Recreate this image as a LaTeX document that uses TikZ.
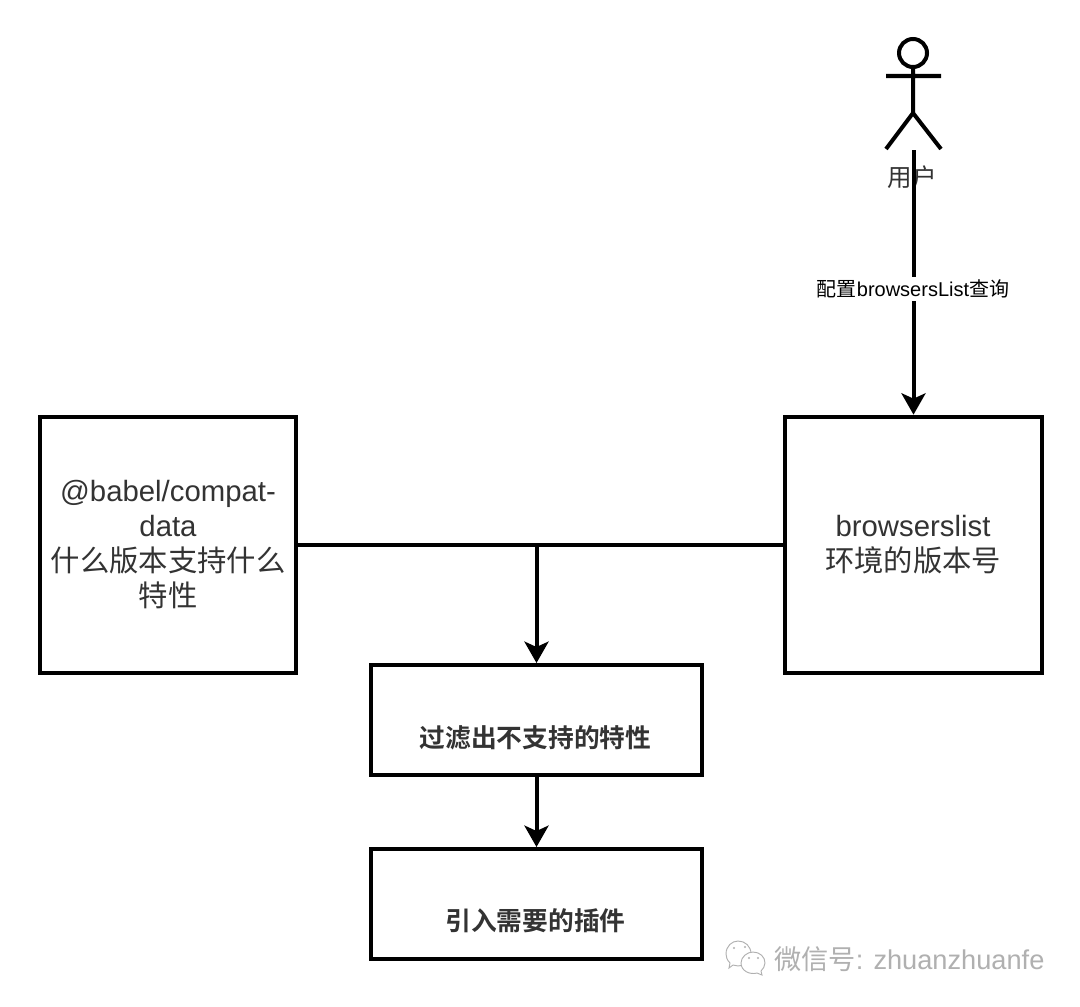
\documentclass[tikz,border=0pt]{standalone}
\usepackage{fontspec}
\setmainfont{Liberation Sans}
\newfontfamily\cjk{Noto Sans CJK SC}
\newfontfamily\cjkb{Noto Sans CJK SC}[BoldFont={Noto Sans CJK SC Bold}]
\usetikzlibrary{arrows.meta}
\definecolor{ink}{HTML}{000000}
\definecolor{txt}{HTML}{333333}
\definecolor{wm}{HTML}{B0B0B0}
\tikzset{
  x=0.75pt,y=-0.75pt,
  boxa/.style={draw=ink,line width=3pt,fill=white,inner sep=0pt},
  boxb/.style={draw=ink,line width=3pt,fill=white,inner sep=0pt},
  conn/.style={draw=ink,line width=3pt},
  arr/.style={conn,-{Stealth[length=16pt,width=18pt,inset=4pt]}},
  fig/.style={draw=ink,line width=3pt},
  wmline/.style={draw=wm,line width=0.7pt,fill=white}
}
\begin{document}
\begin{tikzpicture}
\useasboundingbox (0,0) rectangle (1080,1006);
\fill[white] (0,0) rectangle (1080,1006);
% boxes
\node[boxa,minimum width=192.5pt,minimum height=192.5pt] (compat) at (168,545) {};
\node[boxa,minimum width=192.5pt,minimum height=192.5pt] (blist) at (913.5,545) {};
\node[boxb,minimum width=248pt,minimum height=82.5pt] (filter) at (536.5,720) {};
\node[boxb,minimum width=248pt,minimum height=82.5pt] (plugin) at (536.5,904) {};
% box text
\node[text=txt,align=center,inner sep=0pt,font=\fontsize{22}{26.25}\selectfont] (compatT) at (168,545) {@babel/compat-\\data\\{\cjk 什么版本支持什么}\\{\cjk 特性}};
\node[text=txt,align=center,inner sep=0pt,font=\fontsize{22}{26.25}\selectfont] (blistT) at (913,545) {browserslist\\{\cjk 环境的版本号}};
\node[text=txt,inner sep=0pt,font=\fontsize{19.3}{23}\selectfont\cjkb\bfseries] (filterT) at (535.5,738) {过滤出不支持的特性};
\node[text=txt,inner sep=0pt,font=\fontsize{19.3}{23}\selectfont\cjkb\bfseries] (pluginT) at (535.5,921) {引入需要的插件};
% actor
\node[draw=ink,line width=3pt,circle,minimum size=21pt,inner sep=0pt] (head) at (913,53) {};
\coordinate (hip) at (913,113);
\coordinate (armL) at (886,76);
\coordinate (armR) at (941,76);
\coordinate (legL) at (886,149);
\coordinate (legR) at (941,149);
\draw[fig] (head.south) -- (hip) (armL) -- (armR) (legL) -- (hip) -- (legR);
\node[text=txt,inner sep=0pt,font=\fontsize{18.4}{20}\selectfont\cjk] (user) at (912,177) {用户};
% connectors
\coordinate (start) at (913.5,150);
\draw[arr] (start) -- (blist.north);
\node[fill=white,inner sep=2pt,text=ink,font=\fontsize{15}{17}\selectfont] (cfg) at (913,289) {{\cjk 配置}browsersList{\cjk 查询}};
\coordinate (junction) at (536.5,545);
\draw[conn] (compat.east) -- (blist.west);
\draw[arr] (junction) -- (filter.north);
\draw[arr] (filter.south) -- (plugin.north);
% watermark
\path[wmline] (726,954) .. controls (726,946) and (732,941) .. (738,941) .. controls (745,941) and (751,946) .. (751,954) .. controls (751,961) and (745,966) .. (738,966) .. controls (736,966) and (735,966) .. (733,965) -- (729,968) -- (730,963) .. controls (727,960) and (726,957) .. (726,954) -- cycle;
\path[wmline] (741,963) .. controls (741,957) and (747,952) .. (753,952) .. controls (760,952) and (765,957) .. (765,963) .. controls (765,966) and (763,969) .. (761,971) -- (762,975) -- (757,973) .. controls (750,975) and (741,971) .. (741,963) -- cycle;
\fill[wm] (734,948) circle (1.2) (745,947) circle (1.2) (749,958) circle (1.1) (758,958) circle (1.1);
\node[text=wm,inner sep=0pt,anchor=west,font=\fontsize{20.4}{24}\selectfont] (wmT) at (774,959) {{\cjk 微信号}: zhuanzhuanfe};
\end{tikzpicture}
\end{document}
